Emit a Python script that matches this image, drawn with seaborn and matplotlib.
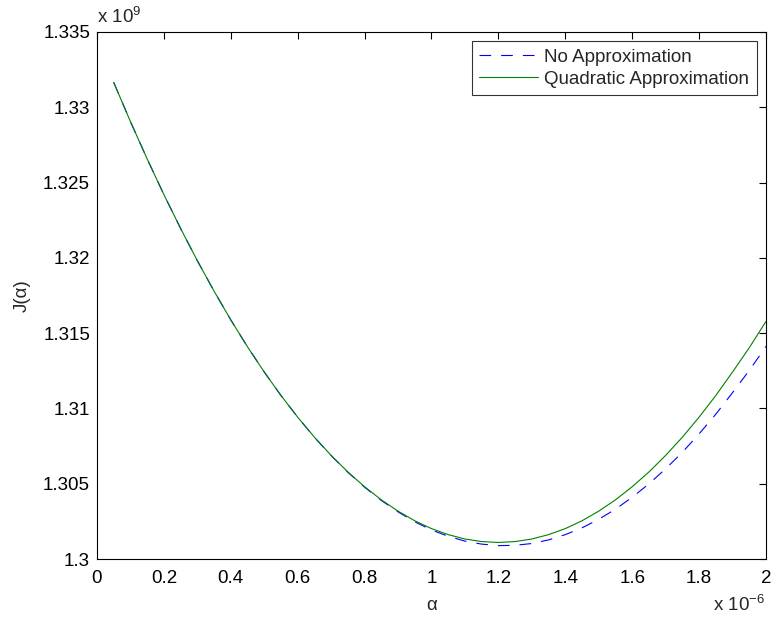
import numpy as np
import pandas as pd
import matplotlib
matplotlib.use("Agg")
import matplotlib.pyplot as plt
import seaborn as sns

# alpha in units of 1e-6, J in units of 1e9
alpha = [0.05, 0.10, 0.15, 0.20, 0.25, 0.30, 0.35, 0.40, 0.45, 0.50,
         0.55, 0.60, 0.65, 0.70, 0.75, 0.80, 0.85, 0.90, 0.95, 1.00,
         1.05, 1.10, 1.15, 1.20, 1.25, 1.30, 1.35, 1.40, 1.45, 1.50,
         1.55, 1.60, 1.65, 1.70, 1.75, 1.80, 1.85, 1.90, 1.95, 2.00]

j_quadratic = [1.33165, 1.32905, 1.32657, 1.32420, 1.32195, 1.31981, 1.31779, 1.31588, 1.31409, 1.31242,
               1.31086, 1.30942, 1.30809, 1.30688, 1.30578, 1.30480, 1.30393, 1.30318, 1.30254, 1.30202,
               1.30162, 1.30133, 1.30116, 1.30110, 1.30116, 1.30133, 1.30162, 1.30202, 1.30254, 1.30318,
               1.30393, 1.30480, 1.30578, 1.30688, 1.30809, 1.30942, 1.31086, 1.31242, 1.31403, 1.31578]

j_exact = [1.33165, 1.32905, 1.32657, 1.32420, 1.32195, 1.31981, 1.31779, 1.31588, 1.31409, 1.31242,
           1.31086, 1.30942, 1.30808, 1.30687, 1.30576, 1.30477, 1.30389, 1.30313, 1.30247, 1.30193,
           1.30151, 1.30119, 1.30099, 1.30089, 1.30091, 1.30103, 1.30127, 1.30162, 1.30207, 1.30264,
           1.30331, 1.30410, 1.30499, 1.30599, 1.30709, 1.30831, 1.30962, 1.31105, 1.31252, 1.31412]

series_names = ["No Approximation", "Quadratic Approximation"]
x_ticks = [0, 0.2, 0.4, 0.6, 0.8, 1, 1.2, 1.4, 1.6, 1.8, 2]
x_tick_labels = ["0", "0.2", "0.4", "0.6", "0.8", "1", "1.2", "1.4", "1.6", "1.8", "2"]
y_ticks = [1.3, 1.305, 1.31, 1.315, 1.32, 1.325, 1.33, 1.335]
y_tick_labels = ["1.3", "1.305", "1.31", "1.315", "1.32", "1.325", "1.33", "1.335"]

df = pd.DataFrame({
    "alpha": alpha * 2,
    "J": j_exact + j_quadratic,
    "series": [series_names[0]] * len(alpha) + [series_names[1]] * len(alpha),
})

sns.set_theme(style="white")
plt.rcParams["font.family"] = ["Liberation Sans", "DejaVu Sans"]
plt.rcParams["mathtext.fontset"] = "custom"
plt.rcParams["mathtext.rm"] = "Liberation Sans"
plt.rcParams["mathtext.it"] = "Liberation Sans"

FS = 13.5

fig = plt.figure(figsize=(7.71, 6.21), dpi=100)
ax = fig.add_axes([0.1258, 0.0998, 0.8677, 0.8487])

sns.lineplot(data=df, x="alpha", y="J", hue="series", style="series",
             palette={series_names[0]: (0, 0, 1), series_names[1]: (0, 0.5, 0)},
             dashes={series_names[0]: (10.5, 9), series_names[1]: ""},
             linewidth=0.8, ax=ax, sort=False)

ax.set_xlim(0, 2)
ax.set_ylim(1.3, 1.335)
ax.set_xticks(x_ticks)
ax.set_xticklabels(x_tick_labels)
ax.set_yticks(y_ticks)
ax.set_yticklabels(y_tick_labels)
ax.tick_params(axis="both", which="both", direction="in", length=5, width=0.8,
               labelsize=FS, colors="black", top=True, right=True)
ax.tick_params(axis="x", pad=8)
ax.tick_params(axis="y", pad=5)
for sp in ax.spines.values():
    sp.set_color("black")
    sp.set_linewidth(0.8)

ax.set_xlabel("α", fontsize=FS, labelpad=7)
ax.set_ylabel("J(α)", fontsize=FS, labelpad=9)

ax.text(0.0, 1.010, r"x 10$^{9}$", transform=ax.transAxes, fontsize=FS,
        ha="left", va="bottom")
ax.text(0.999, -0.068, r"x 10$^{-6}$", transform=ax.transAxes, fontsize=FS,
        ha="right", va="top")

leg = ax.legend(loc="upper right", fontsize=FS, frameon=True, fancybox=False,
                edgecolor="black", borderpad=0.4, handlelength=3.1,
                labelspacing=0.25, handletextpad=0.35, borderaxespad=0.5)
leg.get_frame().set_linewidth(0.8)
leg.set_title(None)

fig.savefig("out.png", dpi=100, facecolor="white")
